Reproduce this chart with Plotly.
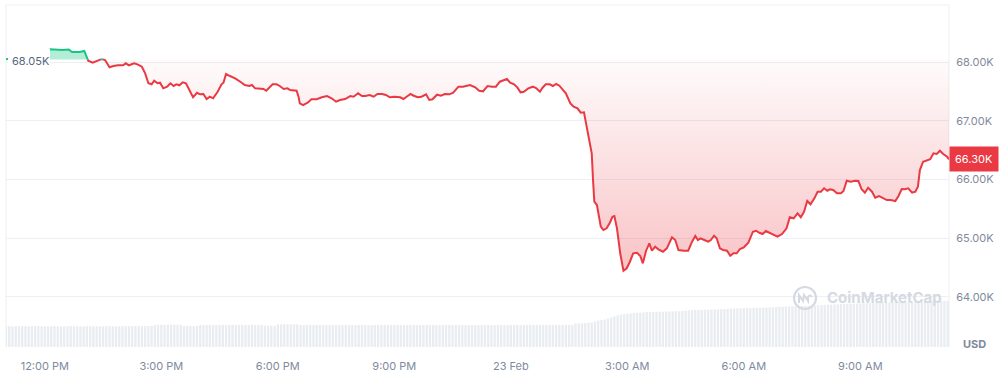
import pandas as pd
import plotly.graph_objects as go

# ---------------- data ----------------
BASE_PRICE = 68050  # reference (open) price shown as "68.05K"

TIMES = [
    "22 11:00", "22 11:22", "22 11:45", "22 12:08", "22 12:27", "22 12:33", "22 12:37", "22 12:42",
    "22 12:54", "22 13:01", "22 13:07", "22 13:14", "22 13:20", "22 13:28", "22 13:33", "22 13:40",
    "22 13:46", "22 13:53", "22 14:01", "22 14:05", "22 14:10", "22 14:18", "22 14:23", "22 14:30",
    "22 14:35", "22 14:40", "22 14:45", "22 14:49", "22 14:54", "22 14:58", "22 15:03", "22 15:09",
    "22 15:14", "22 15:19", "22 15:23", "22 15:28", "22 15:33", "22 15:38", "22 15:44", "22 15:49",
    "22 15:55", "22 16:00", "22 16:05", "22 16:10", "22 16:15", "22 16:20", "22 16:27", "22 16:33",
    "22 16:36", "22 16:40", "22 16:46", "22 16:54", "22 17:02", "22 17:09", "22 17:16", "22 17:20",
    "22 17:25", "22 17:32", "22 17:38", "22 17:42", "22 17:47", "22 17:52", "22 17:58", "22 18:03",
    "22 18:09", "22 18:15", "22 18:19", "22 18:29", "22 18:32", "22 18:34", "22 18:39", "22 18:46",
    "22 18:52", "22 19:00", "22 19:08", "22 19:16", "22 19:23", "22 19:30", "22 19:36", "22 19:44",
    "22 19:52", "22 19:57", "22 20:04", "22 20:10", "22 20:15", "22 20:22", "22 20:28", "22 20:34",
    "22 20:41", "22 20:47", "22 20:53", "22 21:00", "22 21:09", "22 21:14", "22 21:19", "22 21:25",
    "22 21:30", "22 21:36", "22 21:42", "22 21:49", "22 21:54", "22 21:59", "22 22:06", "22 22:12",
    "22 22:18", "22 22:25", "22 22:31", "22 22:39", "22 22:46", "22 22:52", "22 22:57", "22 23:05",
    "22 23:11", "22 23:17", "22 23:24", "22 23:31", "22 23:37", "22 23:43", "22 23:48", "22 23:54",
    "22 23:59", "23 00:05", "23 00:10", "23 00:15", "23 00:20", "23 00:27", "23 00:34", "23 00:39",
    "23 00:45", "23 00:49", "23 00:54", "23 01:00", "23 01:05", "23 01:10", "23 01:15", "23 01:20",
    "23 01:25", "23 01:32", "23 01:37", "23 01:43", "23 01:48", "23 01:53", "23 01:57", "23 02:01",
    "23 02:05", "23 02:07", "23 02:09", "23 02:13", "23 02:19", "23 02:23", "23 02:28", "23 02:33",
    "23 02:37", "23 02:40", "23 02:44", "23 02:49", "23 02:54", "23 02:59", "23 03:04", "23 03:09",
    "23 03:15", "23 03:20", "23 03:24", "23 03:29", "23 03:34", "23 03:38", "23 03:43", "23 03:48",
    "23 03:55", "23 04:01", "23 04:09", "23 04:14", "23 04:19", "23 04:27", "23 04:34", "23 04:40",
    "23 04:45", "23 04:49", "23 04:53", "23 04:59", "23 05:05", "23 05:09", "23 05:14", "23 05:18",
    "23 05:23", "23 05:28", "23 05:34", "23 05:39", "23 05:44", "23 05:49", "23 05:54", "23 06:00",
    "23 06:07", "23 06:14", "23 06:19", "23 06:24", "23 06:29", "23 06:34", "23 06:41", "23 06:47",
    "23 06:52", "23 06:59", "23 07:06", "23 07:11", "23 07:17", "23 07:23", "23 07:28", "23 07:33",
    "23 07:38", "23 07:43", "23 07:49", "23 07:54", "23 07:59", "23 08:04", "23 08:09", "23 08:13",
    "23 08:18", "23 08:24", "23 08:30", "23 08:34", "23 08:39", "23 08:45", "23 08:52", "23 08:57",
    "23 09:02", "23 09:07", "23 09:12", "23 09:18", "23 09:23", "23 09:29", "23 09:36", "23 09:41",
    "23 09:47", "23 09:54", "23 09:59", "23 10:04", "23 10:09", "23 10:14", "23 10:20", "23 10:25",
    "23 10:29", "23 10:32", "23 10:37", "23 10:43", "23 10:48", "23 10:53", "23 10:58", "23 11:03",
    "23 11:08", "23 11:14", "23 11:17",
]

PRICES = [
    68050, 68090, 68110, 68222, 68210, 68210, 68218, 68176,
    68176, 68193, 68027, 67993, 68022, 68056, 68039, 67915,
    67937, 67949, 67949, 67983, 67949, 67983, 67966, 67925,
    67812, 67642, 67625, 67686, 67642, 67652, 67556, 67584,
    67642, 67596, 67625, 67608, 67659, 67642, 67498, 67403,
    67481, 67454, 67459, 67374, 67413, 67386, 67498, 67625,
    67652, 67800, 67766, 67727, 67669, 67613, 67596, 67613,
    67556, 67544, 67544, 67515, 67573, 67625, 67625, 67596,
    67544, 67556, 67527, 67515, 67413, 67300, 67271, 67311,
    67369, 67369, 67403, 67425, 67386, 67328, 67357, 67374,
    67425, 67413, 67471, 67425, 67425, 67442, 67413, 67459,
    67459, 67442, 67403, 67413, 67403, 67374, 67413, 67459,
    67430, 67403, 67413, 67454, 67357, 67369, 67447, 67430,
    67459, 67454, 67481, 67584, 67584, 67596, 67613, 67573,
    67515, 67505, 67596, 67584, 67584, 67669, 67686, 67715,
    67652, 67625, 67573, 67488, 67498, 67556, 67584, 67561,
    67498, 67567, 67625, 67625, 67596, 67630, 67601, 67527,
    67471, 67300, 67242, 67215, 67140, 67147, 66901, 66674,
    66447, 65991, 65621, 65565, 65195, 65138, 65167, 65263,
    65365, 65377, 65167, 64741, 64444, 64485, 64597, 64741,
    64751, 64695, 64570, 64785, 64911, 64785, 64853, 64809,
    64768, 64826, 65014, 64968, 64797, 64785, 64785, 64939,
    65036, 64968, 64997, 64968, 64939, 64968, 65041, 64997,
    64826, 64797, 64785, 64700, 64741, 64741, 64814, 64843,
    64921, 65109, 65126, 65092, 65070, 65121, 65082, 65041,
    65024, 65070, 65167, 65355, 65338, 65423, 65355, 65450,
    65633, 65577, 65679, 65792, 65792, 65850, 65809, 65833,
    65821, 65764, 65764, 65804, 65979, 65962, 65979, 65974,
    65833, 65775, 65860, 65792, 65689, 65718, 65679, 65650,
    65650, 65633, 65718, 65838, 65833, 65850, 65775, 65792,
    65877, 66162, 66304, 66321, 66345, 66447, 66435, 66491,
    66435, 66389, 66345,
]

# 5-minute volume bars (relative units), one row per hour starting 22 Feb 11:00
VOLUME = [
    20.7, 20.9, 20.6, 20.8, 20.7, 20.9, 20.8, 20.6, 20.7, 20.9, 20.8, 20.7,
    20.8, 20.6, 20.7, 20.9, 20.8, 20.7, 20.6, 20.8, 20.9, 20.7, 20.8, 20.6,
    20.7, 20.8, 20.9, 20.7, 20.6, 20.8, 20.7, 20.9, 20.8, 20.6, 20.7, 20.8,
    20.8, 20.9, 20.7, 20.8, 21.0, 20.9, 20.8, 20.9, 21.0, 21.2, 22.3, 22.4,
    22.3, 22.4, 22.2, 22.3, 22.4, 22.3, 22.2, 21.1, 21.0, 21.2, 21.0, 21.1,
    22.0, 21.9, 22.1, 22.0, 21.9, 22.0, 22.1, 22.0, 21.9, 22.0, 22.1, 22.0,
    22.1, 22.0, 21.9, 22.0, 22.1, 22.0, 21.9, 22.0, 21.3, 21.4, 21.3, 21.2,
    22.7, 22.6, 22.8, 22.7, 22.6, 22.7, 22.8, 22.0, 21.9, 22.1, 22.0, 22.0,
    22.0, 22.1, 21.9, 22.0, 22.0, 22.1, 21.9, 22.0, 22.1, 22.0, 21.9, 22.0,
    21.9, 22.0, 22.1, 22.0, 21.9, 22.0, 22.0, 22.1, 22.0, 21.9, 22.0, 22.1,
    22.0, 22.1, 22.0, 21.9, 22.0, 22.1, 22.0, 22.0, 21.9, 22.0, 22.1, 22.0,
    22.1, 22.0, 21.9, 22.0, 22.0, 22.1, 22.0, 21.9, 22.0, 22.1, 22.0, 21.9,
    22.0, 21.9, 22.0, 22.1, 22.0, 22.0, 21.9, 22.0, 22.1, 22.0, 21.9, 22.0,
    22.1, 22.0, 22.0, 21.9, 22.0, 22.1, 22.0, 22.0, 21.9, 22.0, 22.1, 22.0,
    22.0, 22.1, 22.0, 21.9, 22.0, 22.1, 22.0, 22.0, 23.5, 23.7, 23.8, 24.0,
    24.3, 24.5, 25.5, 26.5, 27.0, 27.5, 28.5, 29.5, 30.5, 31.5, 32.5, 33.0,
    33.3, 33.6, 33.9, 34.1, 34.3, 34.6, 34.9, 35.0, 35.1, 35.2, 35.3, 35.4,
    35.5, 35.5, 35.6, 35.7, 35.8, 35.9, 36.3, 36.6, 36.9, 37.0, 37.1, 37.2,
    37.3, 37.4, 37.5, 37.6, 37.7, 37.8, 37.9, 38.1, 38.3, 38.5, 38.6, 38.7,
    38.8, 38.9, 39.0, 39.1, 39.2, 39.3, 39.4, 39.5, 39.6, 39.7, 39.9, 40.1,
    40.3, 40.5, 40.6, 40.7, 40.8, 40.9, 41.0, 41.1, 41.2, 41.3, 41.5, 41.7,
    42.0, 42.1, 42.3, 42.4, 42.5, 42.7, 42.8, 42.9, 43.1, 43.2, 43.3, 43.5,
    43.6, 43.7, 43.8, 43.9, 44.0, 44.1, 44.2, 44.3, 44.4, 44.5, 44.6, 44.7,
    44.8, 44.9, 45.0, 45.1, 45.2, 45.3, 45.4, 45.5, 45.7, 45.8, 45.9, 46.0,
    46.0, 46.1, 46.2, 46.3,
]

Y_TICKS = [64000, 65000, 66000, 67000, 68000]
Y_TICK_TEXT = ["64.00K", "65.00K", "66.00K", "67.00K", "68.00K"]
X_TICKS = ["2024-02-22 12:00", "2024-02-22 15:00", "2024-02-22 18:00", "2024-02-22 21:00",
           "2024-02-23 00:00", "2024-02-23 03:00", "2024-02-23 06:00", "2024-02-23 09:00"]
X_TICK_TEXT = ["12:00 PM", "3:00 PM", "6:00 PM", "9:00 PM", "23 Feb", "3:00 AM", "6:00 AM", "9:00 AM"]
LAST_LABEL = "66.30K"
BASE_LABEL = "68.05K"

# ---------------- styling ----------------
RED = "#ea3943"
GREEN = "#16c784"
AXIS_TXT = "#808a9d"
DARK_TXT = "#58667e"
GRID = "#eceff3"
FONT = "Inter"

times = pd.to_datetime(["2024-02-" + t for t in TIMES])
vol_times = pd.date_range("2024-02-22 11:00", periods=len(VOLUME), freq="5min")

# insert baseline crossings so colour switches exactly at the base price
xs, ys = [], []
for i, (t, p) in enumerate(zip(times, PRICES)):
    if i > 0:
        p0 = PRICES[i - 1]
        if (p0 - BASE_PRICE) * (p - BASE_PRICE) < 0:
            f = (BASE_PRICE - p0) / (p - p0)
            xs.append(times[i - 1] + (t - times[i - 1]) * f)
            ys.append(BASE_PRICE)
    xs.append(t)
    ys.append(p)

red_line = [y if y <= BASE_PRICE else None for y in ys]
green_line = [y if y >= BASE_PRICE else None for y in ys]
red_fill = [min(y, BASE_PRICE) for y in ys]
green_fill = [max(y, BASE_PRICE) for y in ys]
base_line = [BASE_PRICE] * len(ys)

fig = go.Figure()

# volume
fig.add_trace(go.Bar(x=vol_times, y=VOLUME, yaxis="y2", marker=dict(color="#e9ecf0", line=dict(width=0)),
                     hoverinfo="skip"))

# red fill (below base)
fig.add_trace(go.Scatter(x=xs, y=base_line, mode="lines", line=dict(width=0), hoverinfo="skip"))
fig.add_trace(go.Scatter(
    x=xs, y=red_fill, mode="lines", line=dict(width=0), fill="tonexty",
    fillgradient=dict(type="vertical", start=min(PRICES), stop=BASE_PRICE,
                      colorscale=[[0, "rgba(234,57,67,0.30)"], [1, "rgba(234,57,67,0.02)"]]),
    hoverinfo="skip"))
# green fill (above base)
fig.add_trace(go.Scatter(x=xs, y=base_line, mode="lines", line=dict(width=0), hoverinfo="skip"))
fig.add_trace(go.Scatter(x=xs, y=green_fill, mode="lines", line=dict(width=0), fill="tonexty",
                         fillcolor="rgba(22,199,132,0.32)", hoverinfo="skip"))
# lines
fig.add_trace(go.Scatter(x=xs, y=red_line, mode="lines", line=dict(color=RED, width=2), connectgaps=False))
fig.add_trace(go.Scatter(x=xs, y=green_line, mode="lines", line=dict(color=GREEN, width=2), connectgaps=False))

x_start = pd.Timestamp("2024-02-22 11:00")
x_end = pd.Timestamp("2024-02-23 11:17")

fig.update_layout(
    width=1004, height=372,
    margin=dict(l=6, r=55, t=5, b=25),
    paper_bgcolor="white", plot_bgcolor="white",
    showlegend=False, bargap=0.3,
    font=dict(family=FONT, size=11, color=AXIS_TXT),
    xaxis=dict(range=[x_start, x_end], tickvals=pd.to_datetime(X_TICKS), ticktext=X_TICK_TEXT,
               showgrid=False, zeroline=False, showline=False, automargin=False,
               ticks="outside", ticklen=9, tickcolor="rgba(0,0,0,0)",
               tickfont=dict(family=FONT, size=11, color=AXIS_TXT)),
    yaxis=dict(range=[63142, 68978], side="right", tickvals=Y_TICKS, ticktext=Y_TICK_TEXT,
               showgrid=True, gridcolor=GRID, gridwidth=1, zeroline=False, showline=False,
               automargin=False,
               ticks="outside", ticklen=4, tickcolor="rgba(0,0,0,0)",
               tickfont=dict(family=FONT, size=11, color=AXIS_TXT)),
    yaxis2=dict(range=[0, 342], overlaying="y", visible=False),
)

# plot border (left, top, right)
for x0, y0, x1, y1 in [(0, 0, 0, 1), (0, 1, 1, 1), (1, 0, 1, 1)]:
    fig.add_shape(type="line", xref="paper", yref="paper", x0=x0, y0=y0, x1=x1, y1=y1,
                  line=dict(color="#eceff3", width=1), layer="below")

# white box behind the base price label (hides the line beneath it, as in the original)
fig.add_shape(type="rect", xref="paper", yref="y", xsizemode="pixel", ysizemode="pixel",
              xanchor=0, yanchor=BASE_PRICE, x0=2, x1=44, y0=-13, y1=11,
              fillcolor="white", line=dict(width=0), layer="above")
fig.add_annotation(xref="paper", yref="y", x=0, y=BASE_PRICE, xanchor="left", yanchor="middle",
                   xshift=4, yshift=-2, text=BASE_LABEL, showarrow=False,
                   font=dict(family=FONT, size=11, color=DARK_TXT))
# last price tag
fig.add_annotation(xref="paper", yref="y", x=1, y=PRICES[-1], xanchor="left", yanchor="middle",
                   text=LAST_LABEL, showarrow=False, bgcolor=RED, borderpad=5,
                   font=dict(family=FONT, size=11, color="white"))
# currency
fig.add_annotation(xref="paper", yref="paper", x=1, y=0.008, xanchor="left", yanchor="middle",
                   xshift=12, text="<b>USD</b>", showarrow=False,
                   font=dict(family=FONT, size=11, color=AXIS_TXT))
# watermark
fig.add_shape(type="circle", xref="paper", yref="paper", xsizemode="pixel", ysizemode="pixel",
              xanchor=0.8473, yanchor=0.1433, x0=-11, x1=11, y0=-11, y1=11,
              line=dict(color="#d5dae2", width=2.2))
fig.add_shape(type="path", xref="paper", yref="paper", xsizemode="pixel", ysizemode="pixel",
              xanchor=0.8473, yanchor=0.1433,
              path="M -6,-5 L -6,3 L -2,-3 L -1,3 L 3,-3 L 3,1 Q 5,4 7,1",
              line=dict(color="#d5dae2", width=2))
fig.add_annotation(xref="paper", yref="paper", x=0.8685, y=0.1433, xanchor="left", yanchor="middle",
                   text="<b>CoinMarketCap</b>", showarrow=False,
                   font=dict(family=FONT, size=15, color="#d5dae2"))

fig.write_html("out.html")
